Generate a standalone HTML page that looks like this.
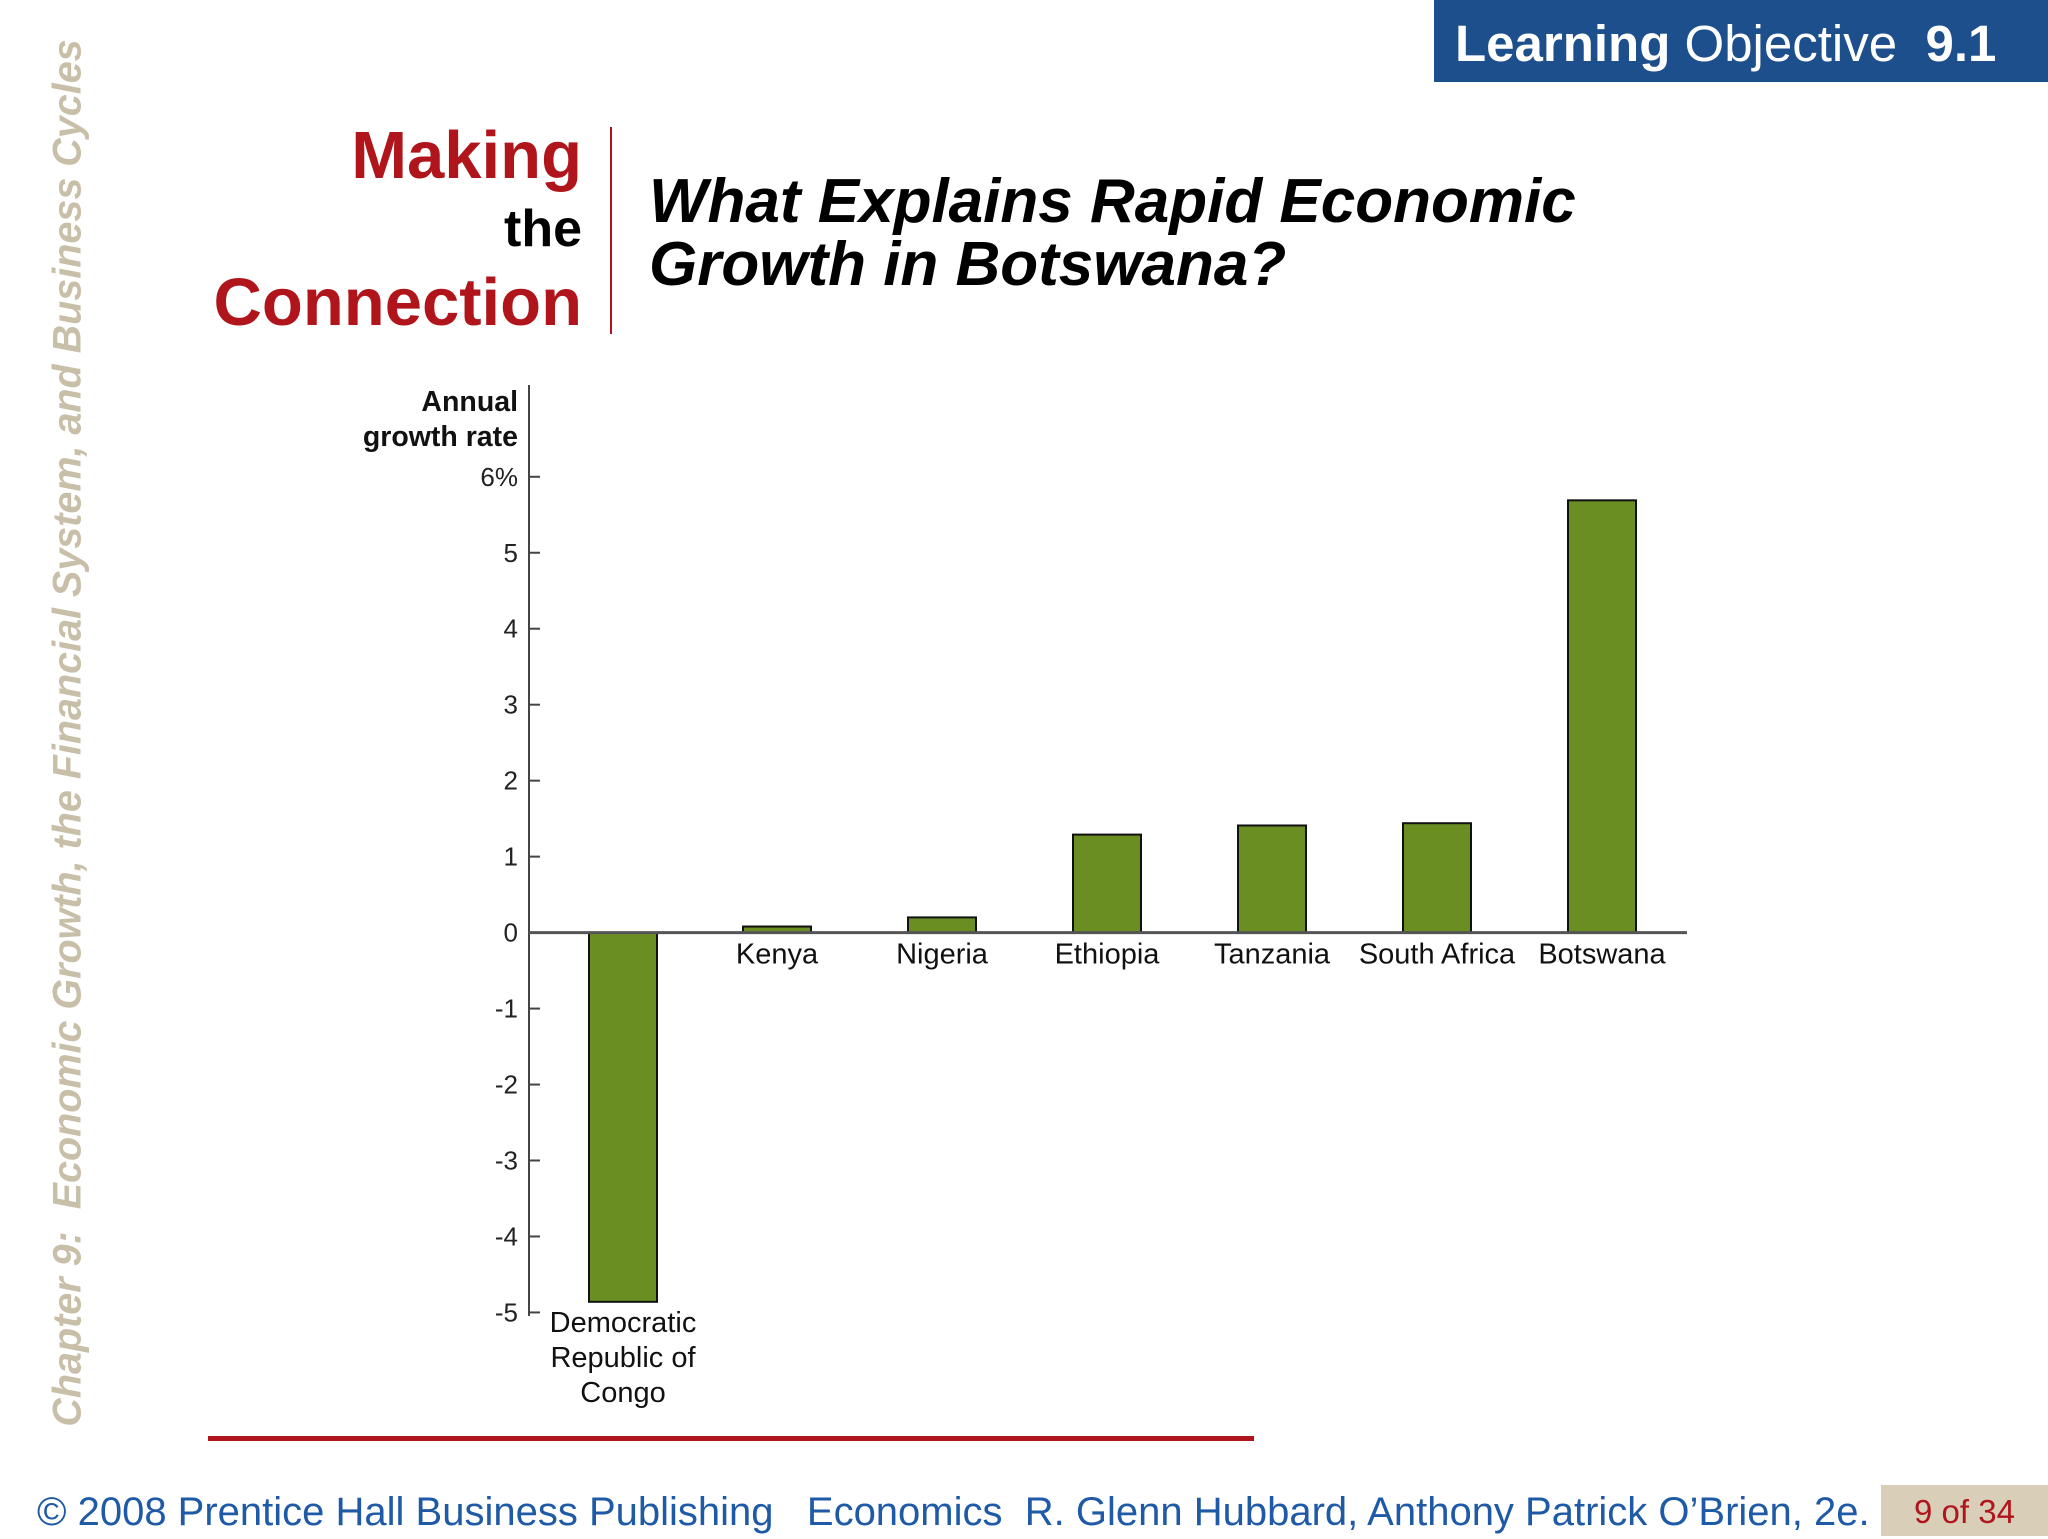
<!DOCTYPE html>
<html><head><meta charset="utf-8"><style>
body{margin:0;width:2048px;height:1536px;background:#fff;position:relative;overflow:hidden;font-family:"Liberation Sans",sans-serif}
.abs{position:absolute}
</style></head><body>
<div class="abs" style="left:1434px;top:0;width:614px;height:82px;background:#1d4f8c;color:#fff;font-size:51px;line-height:88px;white-space:nowrap">
<span style="margin-left:21px"><b>Learning</b> Objective &nbsp;<b>9.1</b></span></div>
<div class="abs" style="left:68px;top:733px;transform:translate(-50%,-50%) rotate(-90deg);white-space:nowrap;font-size:39.5px;font-weight:bold;font-style:italic;color:#c8bfa8">Chapter 9:&nbsp; Economic Growth, the Financial System, and Business Cycles</div>
<div class="abs" style="right:1466px;top:122px;text-align:right;font-weight:bold;line-height:1">
<div style="color:#b0151c;font-size:67px">Making</div>
<div style="color:#000;font-size:52px;margin-top:14px">the</div>
<div style="color:#b0151c;font-size:67px;margin-top:14px">Connection</div></div>
<div class="abs" style="left:610px;top:127px;width:2px;height:207px;background:#b0151c"></div>
<div class="abs" style="left:649px;top:170px;font-size:62px;font-weight:bold;font-style:italic;line-height:63px;color:#000">What Explains Rapid Economic<br>Growth in Botswana?</div>
<svg class="abs" style="left:0;top:0" width="2048" height="1536" id="chart"></svg>
<div class="abs" style="left:208px;top:1436px;width:1046px;height:5px;background:#b0151c"></div>
<div class="abs" style="left:37px;top:1490px;font-size:40px;color:#1f5aa6;white-space:nowrap">© 2008 Prentice Hall Business Publishing &nbsp; Economics &nbsp;R. Glenn Hubbard, Anthony Patrick O’Brien, 2e.</div>
<div class="abs" style="left:1881px;top:1485px;width:167px;height:51px;background:#d9cfb8;color:#b0151c;font-size:33px;line-height:54px;text-align:center">9 of 34</div>
<script>
const categories=["Democratic|Republic of|Congo","Kenya","Nigeria","Ethiopia","Tanzania","South Africa","Botswana"];
const values=[-4.86,0.08,0.2,1.29,1.41,1.44,5.69];
const ticks=[6,5,4,3,2,1,0,-1,-2,-3,-4,-5];
const tickLabels=["6%","5","4","3","2","1","0","-1","-2","-3","-4","-5"];
const svg=document.getElementById('chart');const NS='http://www.w3.org/2000/svg';
const y=v=>932.6-v*75.97;
const x=i=>i===0?623:777+(i-1)*165;
function mk(t,a,txt){const e=document.createElementNS(NS,t);for(const k in a)e.setAttribute(k,a[k]);if(txt!=null)e.textContent=txt;svg.appendChild(e);return e;}
let e=mk('line',{x1:529,y1:385,x2:529,y2:1316,stroke:'#444','stroke-width':2});

e=mk('text',{x:518,y:411,'text-anchor':'end','font-size':28.5,'font-weight':'bold',fill:'#111','font-family':'Liberation Sans'},'Annual');

e=mk('text',{x:518,y:446,'text-anchor':'end','font-size':28.5,'font-weight':'bold',fill:'#111','font-family':'Liberation Sans'},'growth rate');

ticks.forEach((t,i)=>{
 e=mk('line',{x1:529,y1:y(t),x2:540,y2:y(t),stroke:'#444','stroke-width':2});
 
 e=mk('text',{x:518,y:y(t)+9,'text-anchor':'end','font-size':26,fill:'#222','font-family':'Liberation Sans'},tickLabels[i]);
 
});
values.forEach((v,i)=>{
 const top=Math.min(y(v),y(0)),h=Math.abs(y(v)-y(0));
 e=mk('rect',{x:x(i)-34,y:top,width:68,height:h,fill:'#6b8e23',stroke:'#111','stroke-width':2});
 
 const lines=categories[i].split('|');
 lines.forEach((l,j)=>{
  const ly=v<0?y(v)+30+j*35:y(0)+31;
  e=mk('text',{x:x(i),y:ly,'text-anchor':'middle','font-size':29,fill:'#111','font-family':'Liberation Sans'},l);
  
 });
});
e=mk('line',{x1:529,y1:y(0),x2:1687,y2:y(0),stroke:'#555','stroke-width':3});

</script>
</body></html>
